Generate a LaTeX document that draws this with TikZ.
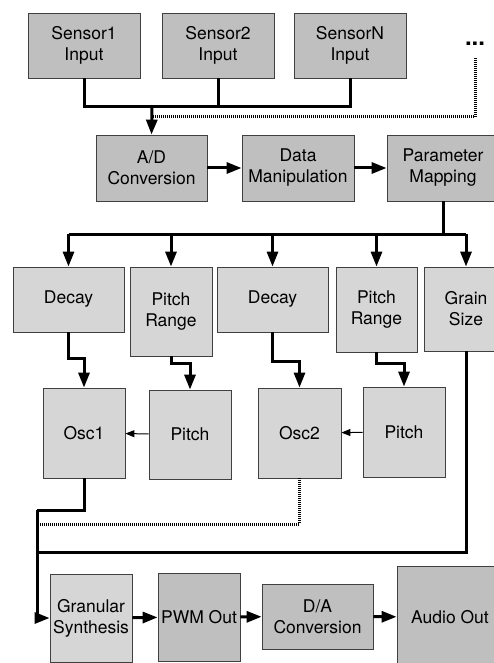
\documentclass[tikz,border=0pt]{standalone}
\usepackage{fontspec}
\setmainfont{TeX Gyre Heros}
\usetikzlibrary{arrows.meta, positioning}
\definecolor{boxdark}{gray}{0.75}
\definecolor{boxlight}{gray}{0.84}
\definecolor{boxline}{gray}{0.25}

\begin{document}
\begin{tikzpicture}[x=1pt, y=-1pt,
  every node/.style={font=\fontsize{17.5}{21}\selectfont, align=center, inner sep=0pt},
  darkbox/.style={draw=boxline, fill=boxdark, line width=0.8pt},
  lightbox/.style={draw=boxline, fill=boxlight, line width=0.8pt},
  wire/.style={line width=3pt},
  dotwire/.style={line width=3pt, dash pattern=on 1pt off 1pt},
  arrowed/.style={-{Triangle[length=15pt, width=11pt]}},
  feed/.style={line width=1pt, -{Triangle[length=9pt, width=7pt]}}]
\useasboundingbox (0, 0) rectangle (494, 663);

\node (s1)[darkbox, minimum width=112pt, minimum height=65pt] at (84, 45.5) {Sensor1\\Input};
\node (s2)[darkbox, minimum width=112pt, minimum height=65pt] at (218, 45.5) {Sensor2\\Input};
\node (sN)[darkbox, minimum width=112pt, minimum height=65pt] at (350, 45.5) {SensorN\\Input};
\node (more)[font=\fontsize{24}{24}\bfseries] at (475, 44) {...};

\node (ad)[darkbox, minimum width=111pt, minimum height=66pt] at (151.5, 168) {A/D\\Conversion};
\node (dm)[darkbox, minimum width=112pt, minimum height=66pt] at (298, 168) {Data\\Manipulation};
\node (pm)[darkbox, minimum width=112pt, minimum height=66pt] at (443, 168) {Parameter\\Mapping};

\node (d1)[lightbox, minimum width=111pt, minimum height=65pt] at (68.5, 299.5) {Decay};
\node (pr1)[lightbox, minimum width=82pt, minimum height=89pt] at (171, 311.5) {Pitch\\Range};
\node (d2)[lightbox, minimum width=111pt, minimum height=65pt] at (272.5, 299.5) {Decay};
\node (pr2)[lightbox, minimum width=81pt, minimum height=85pt] at (376.5, 309.5) {Pitch\\Range};
\node (gs)[lightbox, minimum width=84pt, minimum height=84pt] at (466, 309) {Grain\\Size};

\node (o1)[lightbox, minimum width=82pt, minimum height=90pt] at (84, 433) {Osc1};
\node (p1)[lightbox, minimum width=82pt, minimum height=89pt] at (190, 434.5) {Pitch};
\node (o2)[lightbox, minimum width=83pt, minimum height=90pt] at (299.5, 433) {Osc2};
\node (p2)[lightbox, minimum width=82pt, minimum height=90pt] at (404, 432) {Pitch};

\node (gran)[lightbox, minimum width=82pt, minimum height=88pt] at (91, 618) {Granular\\Synthesis};
\node (pwm)[darkbox, minimum width=82pt, minimum height=88pt] at (199, 617) {PWM Out};
\node (da)[darkbox, minimum width=111pt, minimum height=65pt] at (317.5, 616.5) {D/A\\Conversion};
\node (ao)[darkbox, minimum width=106pt, minimum height=102pt] at (450, 617) {Audio Out};

\coordinate (busin) at (152, 107);
\coordinate (split) at (443, 234);
\coordinate (mix) at (37, 510);

\draw[wire] (s1.south) |- (sN.south |- busin) -- (sN.south);
\draw[wire] (s2.south) -- (s2.south |- busin);
\draw[dotwire] (more.south) [shorten <=12pt] |- (ad.north |- 0, 117);
\draw[wire, arrowed] (busin) -- (ad.north);

\draw[wire, arrowed] (ad) -- (dm);
\draw[wire, arrowed] (dm) -- (pm);

\draw[wire] (pm.south) -- (split);
\draw[wire] (d1.north |- split) -- (gs.north |- split);
\foreach \n in {d1, pr1, d2, pr2, gs}
  \draw[wire, arrowed] (\n.north |- split) -- (\n.north);

\draw[wire, arrowed] (d1.south) -- ++(0, 26) -| (o1.north);
\draw[wire, arrowed] (pr1.south) -- ++(0, 7) -| (p1.north);
\draw[wire, arrowed] (d2.south) -- ++(0, 29) -| (o2.north);
\draw[wire, arrowed] (pr2.south) -- ++(0, 11) -| (p2.north);
\draw[feed] (p1) -- (o1);
\draw[feed] (p2) -- (o2);

\draw[wire] (o1.south) |- (mix);
\draw[dotwire] (o2.south) |- (mix |- 0, 524);
\draw[wire] (gs.south) |- (mix |- 0, 552);
\draw[wire, arrowed] (mix) |- (gran.west);

\draw[wire, arrowed] (gran) -- (pwm);
\draw[wire, arrowed] (pwm) -- (da);
\draw[wire, arrowed] (da) -- (ao);
\end{tikzpicture}
\end{document}
